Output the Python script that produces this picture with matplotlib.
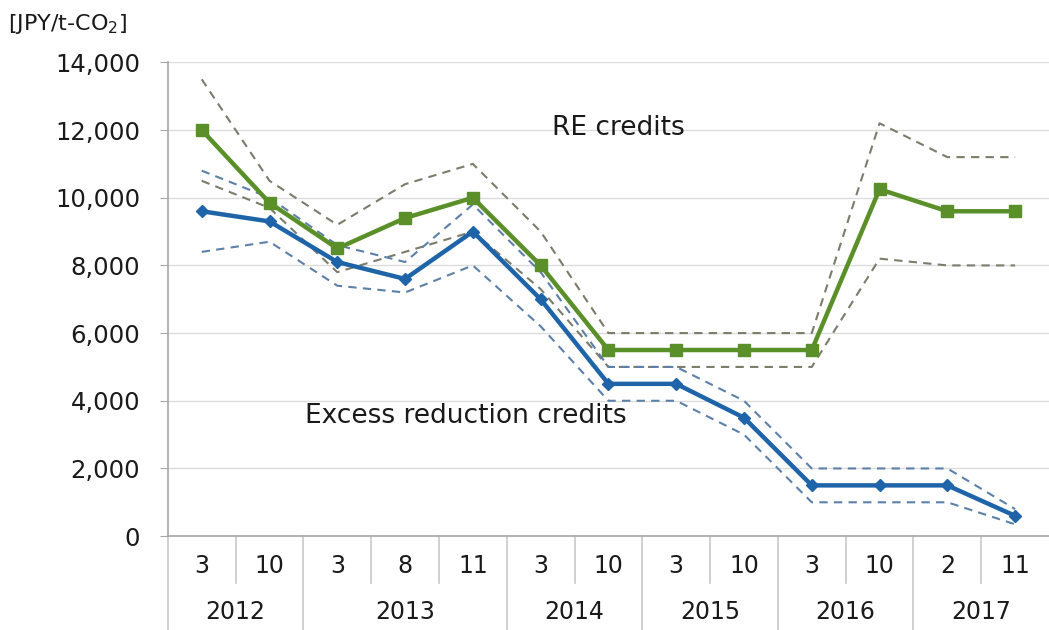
import matplotlib.pyplot as plt
import matplotlib.transforms as mtransforms
import numpy as np

plt.rcParams['font.family'] = ['DejaVu Sans']

years = ['2012', '2013', '2014', '2015', '2016', '2017']
months_per_year = [['3', '10'], ['3', '8', '11'], ['3', '10'],
                   ['3', '10'], ['3', '10'], ['2', '11']]

# RE credits: mean price with upper / lower range
re_mid = [12000, 9850, 8500, 9400, 10000, 8000, 5500, 5500, 5500, 5500, 10250, 9600, 9600]
re_high = [13500, 10500, 9200, 10400, 11000, 9000, 6000, 6000, 6000, 6000, 12200, 11200, 11200]
re_low = [10500, 9700, 7800, 8400, 9000, 7300, 5000, 5000, 5000, 5000, 8200, 8000, 8000]

# Excess reduction credits
ex_mid = [9600, 9300, 8100, 7600, 9000, 7000, 4500, 4500, 3500, 1500, 1500, 1500, 600]
ex_high = [10800, 10000, 8600, 8100, 9800, 7800, 5000, 5000, 4000, 2000, 2000, 2000, 800]
ex_low = [8400, 8700, 7400, 7200, 8000, 6200, 4000, 4000, 3000, 1000, 1000, 1000, 350]

green = '#5a8f29'
blue = '#1f64a8'
txt = '#1a1a1a'
x = np.arange(len(re_mid))

fig = plt.figure(figsize=(10.49, 6.30), dpi=100)
ax = fig.add_axes([0.160, 0.149, 0.840, 0.752])

dash = (0, (4, 3))
ax.plot(x, re_high, ls=dash, color='#7c7c6c', lw=1.5)
ax.plot(x, re_low, ls=dash, color='#7c7c6c', lw=1.5)
ax.plot(x, ex_high, ls=dash, color='#5d80a8', lw=1.5)
ax.plot(x, ex_low, ls=dash, color='#5d80a8', lw=1.5)
ax.plot(x, re_mid, color=green, lw=3.2, marker='s', ms=9)
ax.plot(x, ex_mid, color=blue, lw=3.2, marker='D', ms=6)

ax.set_xlim(-0.5, len(x) - 0.5)
ax.set_ylim(0, 14000)
ax.set_yticks(np.arange(0, 14001, 2000))
ax.set_yticklabels([f'{v:,}' for v in range(0, 14001, 2000)], fontsize=17.5, color=txt)
ax.grid(axis='y', color='#dcdcdc', lw=1)
ax.set_axisbelow(True)
ax.set_xticks([])
for s in ['top', 'right']:
    ax.spines[s].set_visible(False)
for s in ['left', 'bottom']:
    ax.spines[s].set_color('#a6a6a6')
    ax.spines[s].set_linewidth(1.2)
ax.tick_params(axis='y', length=6, color='#a6a6a6', pad=14)

# two-level category axis
trans = mtransforms.blended_transform_factory(ax.transData, ax.transAxes)
pos = 0
for yr, months in zip(years, months_per_year):
    for i, m in enumerate(months):
        ax.text(pos + i, -0.063, m, transform=trans, ha='center', va='center',
                fontsize=17, color=txt)
        if i > 0:
            ax.plot([pos + i - 0.5] * 2, [0, -0.099], transform=trans,
                    color='#c8c8c8', lw=1.2, clip_on=False)
    ax.text(pos + (len(months) - 1) / 2, -0.16, yr, transform=trans,
            ha='center', va='center', fontsize=17, color=txt)
    ax.plot([pos - 0.5] * 2, [0, -0.2], transform=trans,
            color='#c8c8c8', lw=1.2, clip_on=False)
    pos += len(months)

ax.text(6.15, 12050, 'RE credits', ha='center', va='center', fontsize=19, color=txt)
ax.text(3.9, 3550, 'Excess reduction credits', ha='center', va='center',
        fontsize=19, color=txt)
fig.text(0.008, 0.962, '[JPY/t-CO$_2$]', fontsize=16, color=txt,
         ha='left', va='center')

fig.savefig('out.png', dpi=100)
